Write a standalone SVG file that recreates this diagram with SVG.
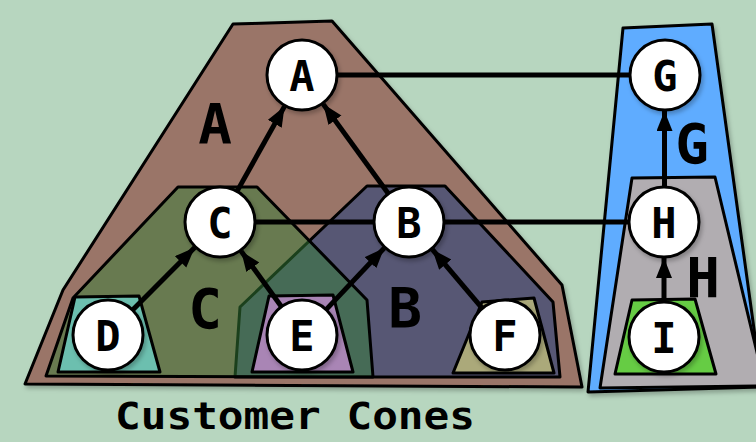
<svg xmlns="http://www.w3.org/2000/svg" width="756" height="442" viewBox="0 0 756 442">
<defs>
<filter id="sh" x="-10%" y="-10%" width="130%" height="130%"><feDropShadow dx="2" dy="3" stdDeviation="2" flood-color="#000" flood-opacity="0.25"/></filter>
<marker id="ah" markerUnits="userSpaceOnUse" markerWidth="22" markerHeight="18" refX="20" refY="8" orient="auto"><path d="M0,0 L20,8 L0,16 Z" fill="#000"/></marker>
<style>
.cone{stroke:#000;stroke-width:3;stroke-linejoin:round}
.node circle{fill:#fff;stroke:#000;stroke-width:3;filter:url(#sh)}
.nl{font-family:"DejaVu Sans Mono",monospace;font-weight:bold;font-size:42px;text-anchor:middle;fill:#000}
.cl{font-family:"DejaVu Sans Mono",monospace;font-weight:bold;font-size:56px;text-anchor:middle;fill:#000}
.edge{stroke:#000;stroke-width:5;fill:none}
.arr{marker-end:url(#ah)}
</style>
</defs>
<rect width="756" height="442" fill="#b7d6bf"/>
<g id="cones">
<polygon id="coneA" class="cone" points="233,24 332,21 562,285 582,387 25,384 63,290" fill="#9a7468" filter="url(#sh)"/>
<polygon id="coneB" class="cone" points="367,186 445,186 553,302 560,377 235,377 240,307" fill="#575774"/>
<polygon id="coneC" class="cone" points="178,187 257,187 367,300 373,377 46,376 73,298" fill="#358038" fill-opacity="0.5"/>
<polygon id="coneD" class="cone" points="75,297 139,296 160,372 58,372" fill="#6cbfaf"/>
<polygon id="coneE" class="cone" points="269,296 333,295 353,372 252,372" fill="#a985b5"/>
<polygon id="coneF" class="cone" points="482,302 534,298 554,373 453,373" fill="#aba97a"/>
<polygon id="coneG" class="cone" points="623,28 712,24 762,387 588,392" fill="#5eacff" filter="url(#sh)"/>
<polygon id="coneH" class="cone" points="632,178 715,177 765,386 600,388" fill="#b1adb1"/>
<polygon id="coneI" class="cone" points="632,300 695,299 716,374 615,374" fill="#66cc44"/>
</g>
<g id="cone-labels">
<text class="cl" x="215" y="143">A</text>
<text class="cl" x="205" y="328">C</text>
<text class="cl" x="405" y="327">B</text>
<text class="cl" x="692" y="163">G</text>
<text class="cl" x="703" y="297">H</text>
</g>
<g id="connectors">
<line class="edge" x1="337" y1="75" x2="630" y2="75"/>
<line class="edge" x1="255" y1="222" x2="374" y2="222"/>
<line class="edge" x1="444" y1="222" x2="629" y2="222"/>
<line class="edge arr" x1="237" y1="191.4" x2="284.5" y2="106.4"/>
<line class="edge arr" x1="388.4" y1="193.7" x2="323.2" y2="104.1"/>
<line class="edge arr" x1="132.6" y1="310.1" x2="194.7" y2="247.6"/>
<line class="edge arr" x1="281.5" y1="306.7" x2="241.1" y2="251.1"/>
<line class="edge arr" x1="326.1" y1="309.6" x2="384.2" y2="248.1"/>
<line class="edge arr" x1="482.3" y1="308.3" x2="432.3" y2="249.4"/>
<line class="edge arr" x1="664.5" y1="187" x2="664.5" y2="111"/>
<line class="edge arr" x1="664" y1="302" x2="664" y2="258"/>
</g>
<g id="nodeA" class="node"><circle cx="302" cy="75" r="35"/><text class="nl" x="302" y="90.5">A</text></g>
<g id="nodeB" class="node"><circle cx="409" cy="222" r="35"/><text class="nl" x="409" y="237.5">B</text></g>
<g id="nodeC" class="node"><circle cx="220" cy="222" r="35"/><text class="nl" x="220" y="237.5">C</text></g>
<g id="nodeD" class="node"><circle cx="108" cy="335" r="35"/><text class="nl" x="108" y="350.5">D</text></g>
<g id="nodeE" class="node"><circle cx="302" cy="335" r="35"/><text class="nl" x="302" y="350.5">E</text></g>
<g id="nodeF" class="node"><circle cx="505" cy="335" r="35"/><text class="nl" x="505" y="350.5">F</text></g>
<g id="nodeG" class="node"><circle cx="665" cy="75" r="35"/><text class="nl" x="665" y="90.5">G</text></g>
<g id="nodeH" class="node"><circle cx="664" cy="222" r="35"/><text class="nl" x="664" y="237.5">H</text></g>
<g id="nodeI" class="node"><circle cx="664" cy="337" r="35"/><text class="nl" x="664" y="352.5">I</text></g>
<text id="title" x="115" y="429" font-family="DejaVu Sans Mono, monospace" font-weight="bold" font-size="37" textLength="360" lengthAdjust="spacingAndGlyphs" fill="#000">Customer Cones</text>
</svg>
